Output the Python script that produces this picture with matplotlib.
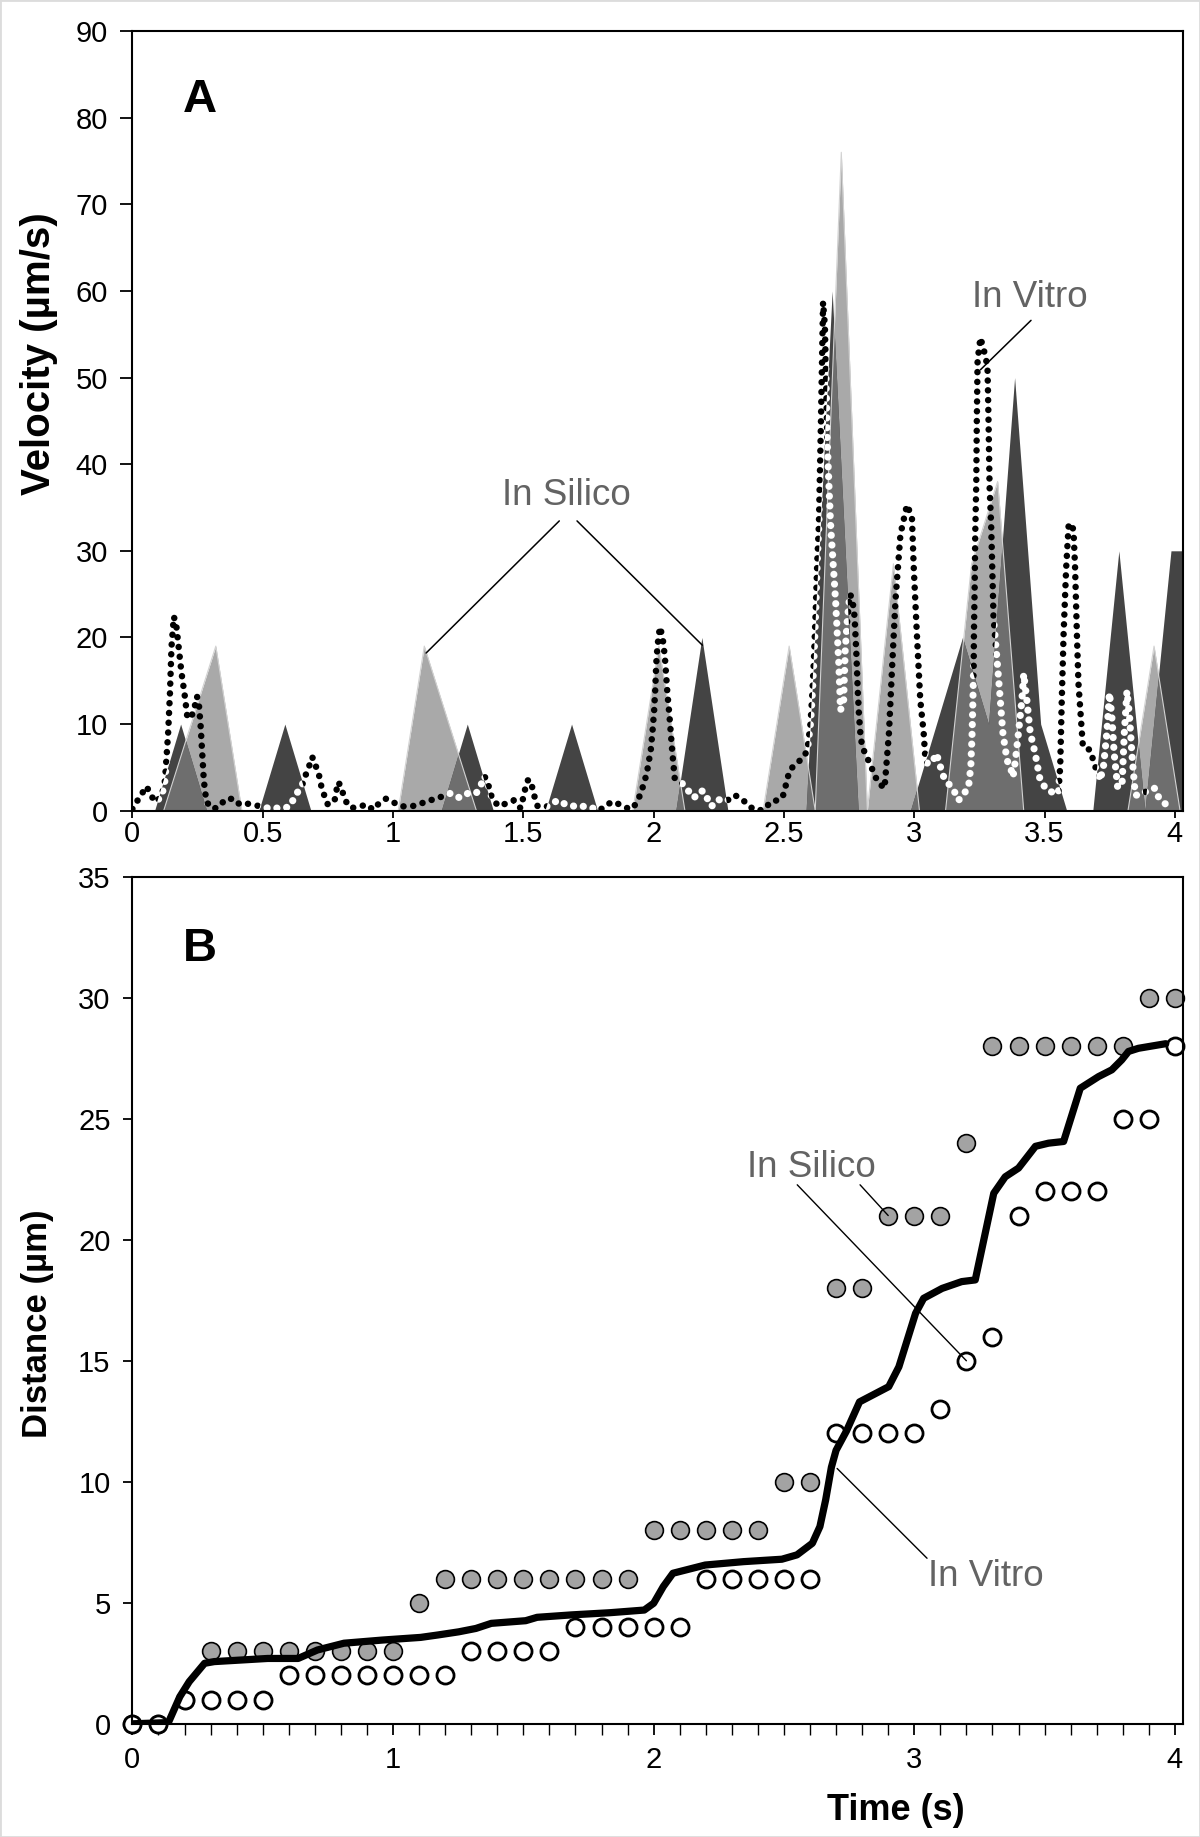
import numpy as np
import matplotlib
matplotlib.use("Agg")
import matplotlib.pyplot as plt
from matplotlib.patches import Rectangle

plt.rcParams['font.family'] = ['Liberation Sans', 'DejaVu Sans']
plt.rcParams['lines.scale_dashes'] = False

# ---------------- data ----------------
time_grid = [0.0, 0.1, 0.2, 0.3, 0.4, 0.5, 0.6, 0.7, 0.8, 0.9, 1.0, 1.1, 1.2, 1.3, 1.4,
             1.5, 1.6, 1.7, 1.8, 1.9, 2.0, 2.1, 2.2, 2.3, 2.4, 2.5, 2.6, 2.7, 2.8, 2.9,
             3.0, 3.1, 3.2, 3.3, 3.4, 3.5, 3.6, 3.7, 3.8, 3.9, 4.0]

# in silico distances (panel B)
silico_grey_dist = [0, 0, 1, 3, 3, 3, 3, 3, 3, 3, 3, 5, 6, 6, 6, 6, 6, 6, 6, 6, 8, 8, 8, 8, 8,
                    10, 10, 18, 18, 21, 21, 21, 24, 28, 28, 28, 28, 28, 28, 30, 30]
silico_white_dist = [0, 0, 1, 1, 1, 1, 2, 2, 2, 2, 2, 2, 2, 3, 3, 3, 3, 4, 4, 4, 4, 4, 6, 6, 6,
                     6, 6, 12, 12, 12, 12, 13, 15, 16, 21, 22, 22, 22, 25, 25, 28]

# in silico velocities (panel A areas)
silico_grey_vel = [0, 0, 9.5, 19, 0, 0, 0, 0, 0, 0, 0, 19, 9.5, 0, 0, 0, 0, 0, 0, 0, 19, 0, 0, 0, 0,
                   19, 0, 76, 0, 28.5, 0, 0, 28.5, 38, 0, 0, 0, 0, 0, 19, 0]
silico_white_vel = [0, 0, 10, 0, 0, 0, 10, 0, 0, 0, 0, 0, 0, 10, 0, 0, 0, 10, 0, 0, 0, 0, 20, 0, 0,
                    0, 0, 60, 0, 0, 0, 10, 20, 10, 50, 10, 0, 0, 30, 0, 30]
white_vel_tail_t = 4.1
white_vel_tail_v = 30

# in vitro velocity (panel A dotted curve)
vitro_vel_t = [0.000, 0.016, 0.054, 0.086, 0.112, 0.125, 0.137, 0.144, 0.150, 0.159, 0.168, 0.176,
               0.188, 0.200, 0.210, 0.222, 0.235, 0.248, 0.256, 0.262, 0.268, 0.274, 0.284, 0.310,
               0.335, 0.355, 0.390, 0.412, 0.444, 0.476, 0.520, 0.560, 0.600, 0.616, 0.635, 0.655,
               0.667, 0.680, 0.689, 0.699, 0.706, 0.718, 0.725, 0.738, 0.750, 0.776, 0.789, 0.799,
               0.808, 0.821, 0.840, 0.872, 0.900, 0.923, 0.948, 0.974, 0.999, 1.031, 1.070, 1.100,
               1.134, 1.165, 1.197, 1.220, 1.255, 1.287, 1.319, 1.338, 1.350, 1.363, 1.370, 1.383,
               1.408, 1.438, 1.463, 1.489, 1.498, 1.507, 1.517, 1.529, 1.536, 1.545, 1.555, 1.591,
               1.632, 1.664, 1.699, 1.734, 1.766, 1.792, 1.817, 1.849, 1.881, 1.913, 1.928, 1.945,
               1.957, 1.968, 1.977, 1.989, 1.996, 2.002, 2.006, 2.010, 2.015, 2.024, 2.034, 2.043,
               2.053, 2.060, 2.066, 2.072, 2.081, 2.111, 2.136, 2.155, 2.181, 2.194, 2.209, 2.222,
               2.247, 2.277, 2.311, 2.341, 2.366, 2.396, 2.426, 2.449, 2.475, 2.494, 2.503, 2.513,
               2.523, 2.545, 2.574, 2.590, 2.596, 2.602, 2.609, 2.615, 2.622, 2.628, 2.634, 2.642,
               2.650, 2.657, 2.662, 2.667, 2.672, 2.679, 2.690, 2.698, 2.711, 2.717, 2.729, 2.735,
               2.742, 2.753, 2.762, 2.771, 2.778, 2.783, 2.788, 2.793, 2.800, 2.830, 2.860, 2.886,
               2.903, 2.915, 2.928, 2.947, 2.972, 2.991, 2.998, 3.010, 3.023, 3.036, 3.042, 3.049,
               3.068, 3.085, 3.100, 3.113, 3.132, 3.151, 3.170, 3.189, 3.208, 3.217, 3.222, 3.225,
               3.228, 3.229, 3.232, 3.234, 3.238, 3.240, 3.243, 3.254, 3.264, 3.272, 3.281, 3.285,
               3.289, 3.295, 3.299, 3.304, 3.311, 3.320, 3.330, 3.340, 3.356, 3.368, 3.379, 3.388,
               3.400, 3.413, 3.420, 3.432, 3.445, 3.464, 3.483, 3.509, 3.540, 3.553, 3.560, 3.566,
               3.573, 3.583, 3.592, 3.601, 3.611, 3.617, 3.624, 3.630, 3.639, 3.647, 3.675, 3.694,
               3.707, 3.713, 3.726, 3.739, 3.749, 3.758, 3.767, 3.780, 3.797, 3.806, 3.816, 3.826,
               3.835, 3.848, 3.867, 3.899, 3.924, 3.937, 3.963, 3.995]
vitro_vel_v = [0.2, 1.0, 2.8, 1.0, 1.6, 3.5, 8.9, 13.5, 18.9, 22.4, 21.5, 19.3,
               16.0, 13.5, 11.0, 10.6, 11.5, 13.2, 12.0, 9.7, 6.5, 3.5, 1.0, 0.2,
               0.5, 1.3, 1.4, 0.7, 0.8, 0.6, 0.3, 0.3, 0.4, 1.2, 2.2, 3.2,
               4.3, 5.3, 6.2, 5.8, 4.9, 3.9, 2.8, 1.6, 0.7, 1.2, 3.3, 2.9,
               2.0, 1.0, 0.3, 0.5, 0.7, 0.1, 0.9, 1.4, 1.0, 0.5, 0.5, 0.7,
               1.2, 1.3, 1.8, 2.0, 1.5, 2.0, 2.0, 3.0, 4.0, 3.4, 2.4, 1.2,
               0.5, 0.9, 1.2, 0.3, 1.3, 2.5, 3.5, 3.5, 2.4, 1.4, 0.5, 0.5,
               1.2, 0.7, 0.5, 0.5, 0.3, 0.0, 0.7, 1.05, 0.5, 0.15, 0.65, 1.6,
               2.6, 3.7, 4.9, 7.0, 9.3, 11.6, 13.9, 17.0, 19.1, 21.2, 20.1, 17.8,
               13.5, 11.2, 8.9, 6.6, 3.7, 3.1, 2.2, 1.5, 2.3, 2.2, 1.2, 0.5,
               1.3, 1.05, 1.8, 1.3, 0.5, 0.0, 0.15, 1.05, 1.2, 1.5, 2.4, 3.7,
               4.7, 5.4, 6.1, 7.0, 8.6, 10.1, 13.6, 17.5, 23.2, 28.9, 33.0, 45.0,
               58.7, 56.0, 49.0, 42.0, 38.0, 33.0, 28.0, 24.3, 16.6, 11.6, 12.7, 18.5,
               21.6, 25.0, 24.5, 22.4, 18.0, 14.0, 11.0, 9.0, 7.4, 5.4, 3.3, 2.6,
               9.0, 16.6, 24.3, 31.9, 35.3, 33.9, 28.1, 20.4, 12.8, 9.0, 6.3, 5.5,
               5.5, 6.6, 5.1, 3.9, 3.1, 2.4, 1.2, 1.9, 2.7, 5.1, 9.0, 12.8,
               16.6, 20.5, 26.2, 32.0, 38.0, 45.0, 52.0, 54.6, 53.5, 52.6, 51.2, 45.0,
               37.4, 33.0, 28.1, 22.4, 19.7, 16.6, 12.8, 9.0, 5.8, 5.1, 3.9, 5.8,
               9.0, 12.8, 15.8, 12.8, 9.0, 6.6, 3.5, 2.4, 2.0, 2.0, 5.1, 12.8,
               20.4, 28.1, 32.8, 33.2, 32.4, 28.1, 20.4, 14.7, 10.9, 7.4, 7.0, 5.1,
               4.3, 3.5, 5.1, 9.0, 13.6, 10.9, 6.6, 2.8, 2.8, 9.0, 13.8, 10.9,
               6.6, 1.8, 1.8, 2.4, 2.6, 1.6, 0.8, 0.3]

# in vitro distance (panel B solid line)
vitro_dist_t = [0.0, 0.138, 0.182, 0.218, 0.277, 0.314, 0.519, 0.636, 0.71, 0.812, 0.959, 1.106,
                1.172, 1.252, 1.318, 1.377, 1.509, 1.553, 1.685, 1.832, 1.964, 2.0, 2.037, 2.074,
                2.198, 2.345, 2.492, 2.55, 2.609, 2.638, 2.66, 2.682, 2.70, 2.74, 2.79, 2.902,
                2.941, 3.005, 3.036, 3.107, 3.182, 3.234, 3.286, 3.305, 3.349, 3.4, 3.465, 3.515,
                3.573, 3.637, 3.707, 3.758, 3.796, 3.822, 3.86, 3.937, 3.965]
vitro_dist_d = [0.0, 0.05, 1.12, 1.74, 2.5, 2.57, 2.7, 2.7, 3.05, 3.33, 3.46, 3.57,
                3.67, 3.8, 3.94, 4.15, 4.26, 4.40, 4.50, 4.59, 4.70, 4.98, 5.67, 6.22,
                6.56, 6.70, 6.80, 6.98, 7.46, 8.15, 9.25, 10.6, 11.3, 12.1, 13.3, 13.93,
                14.75, 16.96, 17.58, 17.99, 18.27, 18.34, 20.96, 21.92, 22.6, 22.96, 23.86, 23.99,
                24.06, 26.26, 26.74, 27.02, 27.43, 27.78, 27.91, 28.05, 28.1]

velocity_ticks = [0, 10, 20, 30, 40, 50, 60, 70, 80, 90]
velocity_time_ticks = [0, 0.5, 1, 1.5, 2, 2.5, 3, 3.5, 4]
velocity_time_labels = ['0', '0.5', '1', '1.5', '2', '2.5', '3', '3.5', '4']
distance_ticks = [0, 5, 10, 15, 20, 25, 30, 35]
distance_time_ticks = [0, 1, 2, 3, 4]

# ---------------- style ----------------
LIGHT = '#a9a9a9'
MID = '#6e6e6e'
DARK = '#444444'
GREY_DOT = '#a3a3a3'
ANN = '#636363'
TICK_FS = 21
DOT = (0, (0.05, 7.0))

fig = plt.figure(figsize=(12, 18.37), dpi=100)
W, H = 1200.0, 1837.0

def fx(px):
    return px / W

def fy(py):
    return 1 - py / H

axA = fig.add_axes([fx(132.4), fy(810.7), (1182.7 - 132.4) / W, (810.7 - 31) / H])
axB = fig.add_axes([fx(132.4), fy(1723.8), (1182.7 - 132.4) / W, (1723.8 - 876.7) / H])

# ---------------- panel A ----------------
tg = np.array(time_grid)
grey_t = tg + 0.02
white_t = np.append(tg - 0.015, white_vel_tail_t - 0.015)
white_v = np.append(silico_white_vel, white_vel_tail_v)

light_fill = axA.fill_between(grey_t, 0, silico_grey_vel, color=LIGHT, lw=0, zorder=2)
dark_fill = axA.fill_between(white_t, 0, white_v, color=DARK, lw=0, zorder=3)
mid_fill = axA.fill_between(white_t, 0, white_v, color=MID, lw=0, zorder=4)
light_path = light_fill.get_paths()[0]
dark_path = dark_fill.get_paths()[0]
mid_fill.set_clip_path(light_path, axA.transData)
axA.plot(grey_t, silico_grey_vel, color='#d2d2d2', lw=0.8, zorder=4.5)

axA.plot(vitro_vel_t, vitro_vel_v, color='black', lw=4.7, linestyle=DOT,
         dash_capstyle='round', zorder=5)
wl, = axA.plot(vitro_vel_t, vitro_vel_v, color='white', lw=5.2, linestyle=DOT,
               dash_capstyle='round', zorder=6)
wl.set_clip_path(dark_path, axA.transData)

axA.set_xlim(0, 4.03)
axA.set_ylim(0, 90)
axA.set_yticks(velocity_ticks)
axA.set_xticks(velocity_time_ticks)
axA.set_xticklabels(velocity_time_labels)
axA.tick_params(axis='y', direction='out', length=8.6, width=1.3, labelsize=TICK_FS, pad=9)
axA.tick_params(axis='x', direction='out', length=5, width=1.3, labelsize=TICK_FS, pad=2)

axA.text(1.664, 36.4, 'In Silico', color=ANN, fontsize=26.5, ha='center', va='center', zorder=8)
for start, end in [((1.638, 33.45), (1.127, 18.2)), ((1.706, 33.45), (2.187, 19.1))]:
    axA.annotate('', xy=end, xytext=start,
                 arrowprops=dict(arrowstyle='-', color='black', lw=1.1, shrinkA=0, shrinkB=0),
                 zorder=8)
axA.text(3.445, 59.25, 'In Vitro', color=ANN, fontsize=26.5, ha='center', va='center', zorder=8)
axA.annotate('', xy=(3.254, 50.9), xytext=(3.448, 56.6),
             arrowprops=dict(arrowstyle='-', color='black', lw=1.1, shrinkA=0, shrinkB=0), zorder=8)
axA.text(0.26, 82.0, 'A', fontsize=34, fontweight='bold', ha='center', va='center')

# ---------------- panel B ----------------
axB.plot(time_grid, silico_grey_dist, linestyle='none', marker='o', ms=12.8,
         mfc=GREY_DOT, mec='black', mew=1.2, zorder=3, clip_on=False)
axB.plot(time_grid, silico_white_dist, linestyle='none', marker='o', ms=12.3,
         mfc='white', mec='black', mew=2.0, zorder=4, clip_on=False)
axB.plot(vitro_dist_t, vitro_dist_d, color='black', lw=5.2, solid_capstyle='round',
         solid_joinstyle='round', zorder=5)

axB.set_xlim(0, 4.03)
axB.set_ylim(0, 35)
axB.set_yticks(distance_ticks)
axB.set_xticks(distance_time_ticks)
axB.set_xticks(time_grid, minor=True)
axB.tick_params(axis='y', direction='out', length=6.7, width=1.3, labelsize=TICK_FS, pad=9)
axB.tick_params(axis='x', which='major', direction='out', length=8, width=1.3,
                labelsize=TICK_FS, pad=8)
axB.tick_params(axis='x', which='minor', direction='out', length=7.7, width=1.0)

axB.text(2.604, 23.0, 'In Silico', color=ANN, fontsize=26.5, ha='center', va='center', zorder=8)
for start, end in [((2.551, 22.27), (3.2, 15)), ((2.792, 22.27), (2.9, 21))]:
    axB.annotate('', xy=end, xytext=start,
                 arrowprops=dict(arrowstyle='-', color='black', lw=1.0, shrinkA=0, shrinkB=0),
                 zorder=8)
axB.text(3.274, 6.07, 'In Vitro', color=ANN, fontsize=26.5, ha='center', va='center', zorder=8)
axB.annotate('', xy=(2.704, 10.55), xytext=(3.049, 6.84),
             arrowprops=dict(arrowstyle='-', color='black', lw=1.0, shrinkA=0, shrinkB=0), zorder=8)
axB.text(0.26, 32.0, 'B', fontsize=34, fontweight='bold', ha='center', va='center')

for ax in (axA, axB):
    for sp in ax.spines.values():
        sp.set_linewidth(1.5)
        sp.set_zorder(10)

# axis titles
fig.text(fx(38.7), fy(354), 'Velocity (\u00b5m/s)', rotation=90, fontsize=29,
         fontweight='bold', ha='center', va='center')
fig.text(fx(37.5), fy(1324), 'Distance (\u00b5m)', rotation=90, fontsize=25,
         fontweight='bold', ha='center', va='center')
fig.text(fx(896), fy(1810), 'Time (s)', fontsize=26, fontweight='bold', ha='center', va='center')

fig.patches.append(Rectangle((0, 0), 1, 1, transform=fig.transFigure, fill=False,
                             edgecolor='#dcdcdc', lw=2))

fig.savefig('out.png', dpi=100)
